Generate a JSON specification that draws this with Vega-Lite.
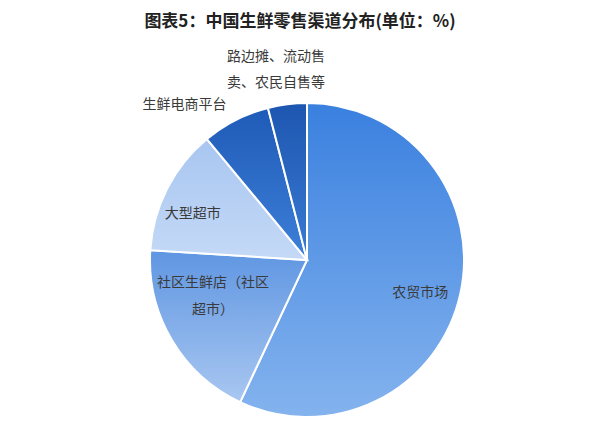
{
  "$schema": "https://vega.github.io/schema/vega-lite/v6.json",
  "width": 586,
  "height": 320,
  "autosize": "none",
  "padding": {"left": 14, "top": 100, "right": 0, "bottom": 5},
  "background": "white",
  "title": {
    "text": "图表5：中国生鲜零售渠道分布(单位：%)",
    "font": "Noto Sans CJK SC",
    "fontSize": 17,
    "fontWeight": "bold",
    "color": "#222222",
    "anchor": "middle",
    "frame": "group",
    "offset": 19,
    "dx": -7
  },
  "data": {
    "values": [
      {"channel": "农贸市场", "label": "农贸市场", "value": 57},
      {"channel": "社区生鲜店（社区超市）", "label": "社区生鲜店（社区\n超市）", "value": 19},
      {"channel": "大型超市", "label": "大型超市", "value": 13},
      {"channel": "生鲜电商平台", "label": "生鲜电商平台", "value": 7},
      {"channel": "路边摊、流动售卖、农民自售等", "label": "路边摊、流动售\n卖、农民自售等", "value": 4}
    ]
  },
  "encoding": {
    "theta": {"field": "value", "type": "quantitative", "stack": true},
    "order": {"field": "value", "type": "quantitative", "sort": "descending"}
  },
  "layer": [
    {
      "mark": {"type": "arc", "radius": 157, "stroke": "white", "strokeWidth": 2},
      "encoding": {
        "color": {
          "condition": [
            {"test": "datum.channel === '农贸市场'", "value": {"gradient": "linear", "x1": 0, "y1": 0, "x2": 0, "y2": 1, "stops": [{"offset": 0, "color": "#3a80df"}, {"offset": 1, "color": "#84b3ee"}]}},
            {"test": "datum.channel === '社区生鲜店（社区超市）'", "value": {"gradient": "linear", "x1": 0, "y1": 0, "x2": 0, "y2": 1, "stops": [{"offset": 0, "color": "#5f96e2"}, {"offset": 1, "color": "#a9c7f1"}]}},
            {"test": "datum.channel === '大型超市'", "value": {"gradient": "linear", "x1": 0, "y1": 0, "x2": 0, "y2": 1, "stops": [{"offset": 0, "color": "#a8c6f1"}, {"offset": 1, "color": "#c4d9f6"}]}},
            {"test": "datum.channel === '生鲜电商平台'", "value": {"gradient": "linear", "x1": 0, "y1": 0, "x2": 0, "y2": 1, "stops": [{"offset": 0, "color": "#1f5bb8"}, {"offset": 1, "color": "#3d7fd8"}]}}
          ],
          "value": {"gradient": "linear", "x1": 0, "y1": 0, "x2": 0, "y2": 1, "stops": [{"offset": 0, "color": "#1d56b0"}, {"offset": 1, "color": "#3a7bd4"}]}
        }
      }
    },
    {
      "mark": {"type": "text", "radius": 116, "dy": 8, "font": "Noto Sans CJK SC", "fontSize": 14, "color": "#3a3a3a", "lineBreak": "\n", "lineHeight": 27},
      "encoding": {"text": {"condition": {"test": "datum.channel !== '农贸市场'", "value": ""}, "field": "label"}}
    },
    {
      "mark": {"type": "text", "radius": 100, "dx": -8, "dy": -28, "font": "Noto Sans CJK SC", "fontSize": 14, "color": "#3a3a3a", "lineBreak": "\n", "lineHeight": 27},
      "encoding": {"text": {"condition": {"test": "datum.channel !== '社区生鲜店（社区超市）'", "value": ""}, "field": "label"}}
    },
    {
      "mark": {"type": "text", "radius": 118, "dx": -9, "dy": 8, "font": "Noto Sans CJK SC", "fontSize": 14, "color": "#3a3a3a", "lineBreak": "\n", "lineHeight": 27},
      "encoding": {"text": {"condition": {"test": "datum.channel !== '大型超市'", "value": ""}, "field": "label"}}
    },
    {
      "mark": {"type": "text", "radius": 195, "dx": -34, "dy": 19, "font": "Noto Sans CJK SC", "fontSize": 14, "color": "#3a3a3a", "lineBreak": "\n", "lineHeight": 27},
      "encoding": {"text": {"condition": {"test": "datum.channel !== '生鲜电商平台'", "value": ""}, "field": "label"}}
    },
    {
      "mark": {"type": "text", "radius": 192, "dx": -7, "dy": -13, "font": "Noto Sans CJK SC", "fontSize": 14, "color": "#3a3a3a", "lineBreak": "\n", "lineHeight": 26},
      "encoding": {"text": {"condition": {"test": "datum.channel !== '路边摊、流动售卖、农民自售等'", "value": ""}, "field": "label"}}
    }
  ],
  "config": {"view": {"stroke": null}}
}
